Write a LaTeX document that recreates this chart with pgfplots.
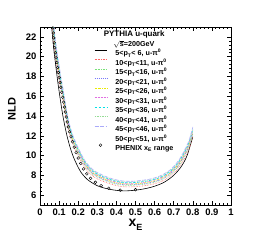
\documentclass[border=0pt]{standalone}
\usepackage{pgfplots}
\usepackage{pgfplotstable}
\pgfplotsset{compat=1.18}
\usepackage{fontspec}
\setmainfont{Liberation Sans}

\definecolor{cR}{RGB}{255,100,100}
\definecolor{cG}{RGB}{120,225,120}
\definecolor{cB}{RGB}{120,120,250}
\definecolor{cY}{RGB}{235,235,0}
\definecolor{cM}{RGB}{225,110,225}
\definecolor{cC}{RGB}{0,225,230}
\definecolor{cLG}{RGB}{150,220,150}
\definecolor{cLB}{RGB}{170,170,250}
\pgfplotsset{
  lineleg/.style={legend image code/.code={\draw[##1] (0bp,2.5bp) -- (12.5bp,2.5bp);}},
  markleg/.style={legend image code/.code={\draw[##1] plot coordinates {(6bp,2.5bp)};}},
}

\pgfplotstableread{
x      s10    s15    s20    s25   s30    s35    s40    s45    s50
0.066  22.85  23.32  23.56  23.8  24.04  24.28  24.51  24.75  24.99
0.072  21.50  21.95  22.18  22.4  22.62  22.85  23.07  23.30  23.52
0.080  20.16  20.58  20.79  21.0  21.21  21.42  21.63  21.84  22.05
0.090  18.82  19.21  19.40  19.6  19.80  19.99  20.19  20.38  20.58
0.100  17.66  18.03  18.22  18.4  18.58  18.77  18.95  19.14  19.32
0.110  16.51  16.86  17.03  17.2  17.37  17.54  17.72  17.89  18.06
0.120  15.55  15.88  16.04  16.2  16.36  16.52  16.69  16.85  17.01
0.135  13.92  14.21  14.36  14.5  14.65  14.79  14.94  15.08  15.23
0.150  12.48  12.74  12.87  13.0  13.13  13.26  13.39  13.52  13.65
0.170  11.23  11.47  11.58  11.7  11.82  11.93  12.05  12.17  12.29
0.190  10.37  10.58  10.69  10.8  10.91  11.02  11.12  11.23  11.34
0.210  9.60   9.80   9.90   10.0  10.10  10.20  10.30  10.40  10.50
0.240  8.64   8.82   8.91   9.0   9.09   9.18   9.27   9.36   9.45
0.280  7.87   8.04   8.12   8.2   8.28   8.36   8.45   8.53   8.61
0.330  7.39   7.55   7.62   7.7   7.78   7.85   7.93   8.01   8.09
0.380  7.06   7.20   7.28   7.35  7.42   7.50   7.57   7.64   7.72
0.430  6.86   7.01   7.08   7.15  7.22   7.29   7.36   7.44   7.51
0.480  6.84   6.98   7.05   7.12  7.19   7.26   7.33   7.40   7.48
0.530  6.91   7.06   7.13   7.2   7.27   7.34   7.42   7.49   7.56
0.580  7.06   7.20   7.28   7.35  7.42   7.50   7.57   7.64   7.72
0.630  7.34   7.50   7.57   7.65  7.73   7.80   7.88   7.96   8.03
0.680  7.87   8.04   8.12   8.2   8.28   8.36   8.45   8.53   8.61
0.720  8.64   8.82   8.91   9.0   9.09   9.18   9.27   9.36   9.45
0.750  9.50   9.70   9.80   9.9   10.00  10.10  10.20  10.30  10.40
0.780  10.66  10.88  10.99  11.1  11.21  11.32  11.43  11.54  11.66
0.800  11.90  12.15  12.28  12.4  12.52  12.65  12.77  12.90  13.02
}\pythia

\pgfplotstableread{
x     y
0.058 24.0
0.061 23.0
0.066 22.0
0.072 20.8
0.078 19.8
0.085 18.7
0.092 17.6
0.100 16.5
0.110 15.2
0.120 14.0
0.130 13.0
0.140 12.1
0.155 11.0
0.170 10.1
0.190 9.2
0.215 8.3
0.250 7.55
0.300 6.95
0.350 6.65
0.400 6.48
0.450 6.43
0.500 6.50
0.550 6.65
0.600 6.90
0.650 7.30
0.700 8.00
0.740 8.90
0.770 10.00
0.800 11.90
}\black

\begin{document}
\begin{tikzpicture}
\path[use as bounding box] (-40bp,-38bp) rectangle (220bp,205bp);
\begin{axis}[
  scale only axis,
  width=191bp, height=178bp,
  xmin=0, xmax=1, ymin=5, ymax=23,
  xtick={0,0.1,...,1.01},
  ytick={6,8,...,22},
  minor x tick num=4,
  minor y tick num=4,
  tick align=inside,
  major tick length=4bp,
  minor tick length=2bp,
  xticklabels={0,0.1,0.2,0.3,0.4,0.5,0.6,0.7,0.8,0.9,1},
  tick label style={font=\bfseries\fontsize{9.5}{10}\selectfont},
  /pgf/number format/assume math mode=true,
  xlabel={\fontsize{14}{14}\selectfont x\raisebox{-3.5bp}{\fontsize{9}{9}\selectfont E}},
  xlabel style={at={(axis description cs:0.5,-0.112)}, anchor=center, font=\bfseries},
  ylabel={NLD},
  ylabel style={at={(axis description cs:-0.147,0.54)}, anchor=center, font=\bfseries\fontsize{11}{11}\selectfont},
  axis line style={line width=0.6pt},
  every tick/.style={line width=0.5pt, black},
  legend style={at={(axis description cs:0.283,0.99)}, anchor=north west,
    draw=none, fill=none, inner sep=0pt, column sep=8bp, row sep=0pt,
    font=\bfseries\fontsize{7.2}{9.1}\selectfont,
    nodes={inner sep=0pt, text height=8bp}},
  legend cell align=left,
  lineleg,
]
\addlegendimage{empty legend}
\addlegendentry{\hspace*{-11.5bp}{\fontsize{8}{9.1}\selectfont PYTHIA u-quark}}
\addlegendimage{empty legend}
\addlegendentry{\hspace*{-2bp}$\sqrt{\mbox{\bfseries s}}$=200GeV}

\addplot[black, line width=0.6pt, smooth] table[x=x,y=y]{\black};
\addlegendentry{5<p\textsubscript{T}< 6, u-π\textsuperscript{0}}
\addplot[cR, line width=0.6pt, densely dotted, smooth] table[x=x,y=s10]{\pythia};
\addlegendentry{10<p\textsubscript{T}<11, u-π\textsuperscript{0}}
\addplot[cG, line width=0.6pt, densely dotted, smooth] table[x=x,y=s15]{\pythia};
\addlegendentry{15<p\textsubscript{T}<16, u-π\textsuperscript{0}}
\addplot[cB, line width=0.6pt, dash pattern=on 1.5pt off 1pt on 0.5pt off 1pt, smooth] table[x=x,y=s20]{\pythia};
\addlegendentry{20<p\textsubscript{T}<21, u-π\textsuperscript{0}}
\addplot[cY, line width=0.6pt, dash pattern=on 2pt off 1pt on 0.5pt off 1pt, smooth] table[x=x,y=s25]{\pythia};
\addlegendentry{25<p\textsubscript{T}<26, u-π\textsuperscript{0}}
\addplot[cM, line width=0.6pt, dash pattern=on 2pt off 1pt on 0.5pt off 1pt on 0.5pt off 1pt, smooth] table[x=x,y=s30]{\pythia};
\addlegendentry{30<p\textsubscript{T}<31, u-π\textsuperscript{0}}
\addplot[cC, line width=0.6pt, dash pattern=on 2.5pt off 1.5pt, smooth] table[x=x,y=s35]{\pythia};
\addlegendentry{35<p\textsubscript{T}<36, u-π\textsuperscript{0}}
\addplot[cLG, line width=0.6pt, dash pattern=on 1pt off 1pt on 0.5pt off 1pt on 0.5pt off 1pt, smooth] table[x=x,y=s40]{\pythia};
\addlegendentry{40<p\textsubscript{T}<41, u-π\textsuperscript{0}}
\addplot[cLB, line width=0.6pt, dash pattern=on 4pt off 1.5pt, smooth] table[x=x,y=s45]{\pythia};
\addlegendentry{45<p\textsubscript{T}<46, u-π\textsuperscript{0}}
\addplot[white, line width=0.4pt, densely dotted, smooth] table[x=x,y=s50]{\pythia};
\addlegendentry{50<p\textsubscript{T}<51, u-π\textsuperscript{0}}

\addplot[only marks, mark=o, mark size=1.4pt, black, mark options={line width=0.4pt}, markleg] coordinates {
(0.0675,22.9) (0.0695,22.4) (0.0718,21.9) (0.0746,21.4) (0.0775,20.9)
(0.0806,20.4) (0.0842,19.9) (0.0879,19.4) (0.0918,18.9) (0.0961,18.4)
(0.1003,17.9) (0.1046,17.4) (0.1089,16.9) (0.1138,16.4) (0.119,15.9)
(0.1238,15.4) (0.1281,14.9) (0.1327,14.4) (0.1375,13.9) (0.1426,13.4)
(0.148,12.9) (0.1546,12.4) (0.1623,11.9) (0.170,11.4) (0.179,10.85)
(0.189,10.3) (0.2,9.75) (0.213,9.2) (0.228,8.65) (0.245,8.15)
(0.265,7.7) (0.29,7.3) (0.32,6.95) (0.36,6.7) (0.42,6.5) (0.5,6.55)
};
\addlegendentry{PHENIX x\textsubscript{E} range}
\end{axis}
\end{tikzpicture}
\end{document}
